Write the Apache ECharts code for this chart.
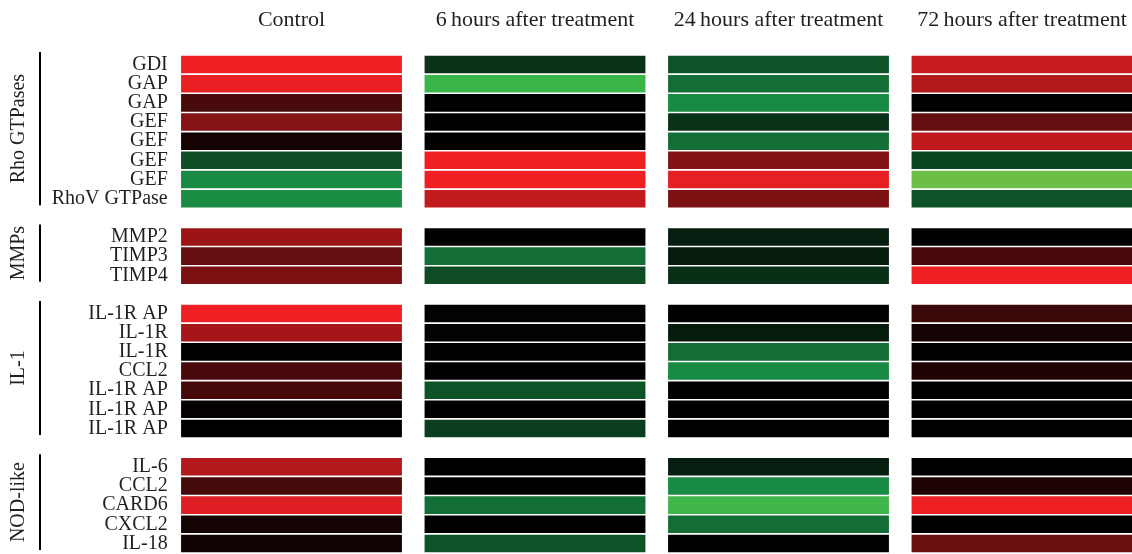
<!DOCTYPE html>
<html>
<head>
<meta charset="utf-8">
<script src="https://cdn.jsdelivr.net/npm/echarts@6/dist/echarts.min.js"></script>
<style>html,body{margin:0;padding:0;background:#fff;overflow:hidden;width:1132px;height:554px}#c{width:1144px;height:554px}</style>
</head>
<body>
<div id="c"></div>
<script>
// Column headers
var columns = ['Control', '6\u2009hours after treatment', '24\u2009hours after treatment', '72\u2009hours after treatment'];
// Groups and their gene rows
var groupNames = ['Rho GTPases', 'MMPs', 'IL-1', 'NOD-like'];
var rhoGenes = ['GDI', 'GAP', 'GAP', 'GEF', 'GEF', 'GEF', 'GEF', 'RhoV GTPase'];
var mmpGenes = ['MMP2', 'TIMP3', 'TIMP4'];
var il1Genes = ['IL-1R AP', 'IL-1R', 'IL-1R', 'CCL2', 'IL-1R AP', 'IL-1R AP', 'IL-1R AP'];
var nodGenes = ['IL-6', 'CCL2', 'CARD6', 'CXCL2', 'IL-18'];
// Expression values (negative = green / down, positive = red / up), row order as above
var controlVals = [3.0, 2.95, 0.93, 1.68, 0.27, -0.55, -1.0, -1.05,
                   1.95, 1.27, 1.55,
                   3.0, 2.08, 0.0, 0.93, 0.9, 0.06, 0.0,
                   2.25, 0.9, 2.8, 0.25, 0.22];
var h6Vals = [-0.36, -2.0, 0.0, 0.0, 0.0, 3.0, 3.0, 2.45,
              0.0, -0.8, -0.55,
              -0.02, -0.03, 0.0, 0.0, -0.6, 0.0, -0.45,
              0.0, 0.0, -0.8, 0.0, -0.6];
var h24Vals = [-0.6, -0.8, -1.0, -0.36, -0.8, 1.65, 2.9, 1.55,
               -0.22, -0.2, -0.35,
               0.0, -0.2, -0.8, -1.0, 0.0, 0.0, 0.0,
               -0.22, -1.0, -2.1, -0.8, 0.0];
var h72Vals = [2.5, 2.25, 0.0, 1.27, 2.4, -0.5, -3.0, -0.6,
               0.0, 0.93, 3.0,
               0.73, 0.27, 0.0, 0.4, 0.0, 0.0, 0.0,
               0.0, 0.4, 3.0, 0.0, 1.35];

var groupGenes = [rhoGenes, mmpGenes, il1Genes, nodGenes];
var colVals = [controlVals, h6Vals, h24Vals, h72Vals];

// Build y categories with a blank spacer row between groups
var yCats = [];
var rowIndex = [];   // gene index -> category index
var groupSpans = []; // [firstCat, lastCat]
groupGenes.forEach(function (genes, g) {
  if (g > 0) yCats.push('');
  var first = yCats.length;
  genes.forEach(function (name) { rowIndex.push(yCats.length); yCats.push(name); });
  groupSpans.push([first, yCats.length - 1]);
});

var data = [];
colVals.forEach(function (vals, ci) {
  vals.forEach(function (v, ri) { data.push([ci, rowIndex[ri], v]); });
});

var font = 'Liberation Serif';
var txt = '#231f20';
var chart = echarts.init(document.getElementById('c'), null, {renderer: 'canvas', width: 1144, height: 554});
chart.setOption({
  animation: false,
  backgroundColor: '#ffffff',
  grid: {left: 169.75, right: 0.25, top: 55, bottom: 1, containLabel: false},
  xAxis: {
    type: 'category', position: 'top', data: columns,
    axisLine: {show: false}, axisTick: {show: false}, splitLine: {show: false},
    axisLabel: {fontFamily: font, fontSize: 22, color: txt, margin: 24, interval: 0}
  },
  yAxis: {
    type: 'category', inverse: true, data: yCats,
    axisLine: {show: false}, axisTick: {show: false}, splitLine: {show: false},
    axisLabel: {fontFamily: font, fontSize: 20, color: txt, margin: 2, interval: 0}
  },
  visualMap: {
    show: false, type: 'continuous', min: -3, max: 3, dimension: 2, seriesIndex: 0,
    inRange: {color: ['#6dbe45', '#3bb44a', '#188a43', '#000000', '#4f0b0c', '#9f1518', '#ee2024']}
  },
  series: [{
    type: 'custom',
    encode: {x: 0, y: 1},
    data: data,
    renderItem: function (params, api) {
      var c = api.coord([api.value(0), api.value(1)]);
      var s = api.size([1, 1]);
      var w = s[0] * 0.907, h = s[1] - 1.6;
      return {
        type: 'rect',
        shape: {x: c[0] - w / 2, y: c[1] - h / 2, width: w, height: h},
        style: {fill: api.visual('color')}
      };
    }
  }]
});

// Group brackets and labels positioned from the y axis scale
var graphics = [];
groupSpans.forEach(function (sp, g) {
  var y0 = chart.convertToPixel({yAxisIndex: 0}, sp[0]);
  var y1 = chart.convertToPixel({yAxisIndex: 0}, sp[1]);
  var half = (chart.convertToPixel({yAxisIndex: 0}, 1) - chart.convertToPixel({yAxisIndex: 0}, 0)) / 2;
  var top = y0 - half - 3, bot = Math.min(y1 + half - 3, 554);
  graphics.push({
    type: 'line', shape: {x1: 40, y1: top, x2: 40, y2: bot},
    style: {stroke: '#000', lineWidth: 2}
  });
  graphics.push({
    type: 'text', x: 19, y: (top + bot) / 2, rotation: Math.PI / 2,
    style: {text: groupNames[g], font: '20px "' + font + '"', fill: txt, align: 'center', verticalAlign: 'middle'}
  });
});
chart.setOption({graphic: graphics});
</script>
</body>
</html>
